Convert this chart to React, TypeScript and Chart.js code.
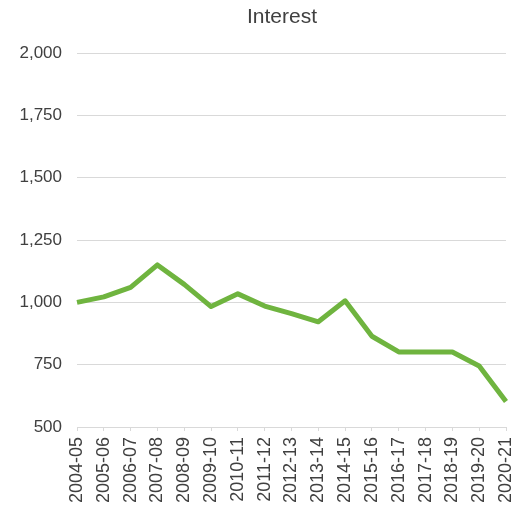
import React, { useEffect, useRef } from "react";
import { Chart, registerables } from "chart.js";

Chart.register(...registerables);

const TITLE = "Interest";
const categories = [
  "2004-05", "2005-06", "2006-07", "2007-08", "2008-09", "2009-10",
  "2010-11", "2011-12", "2012-13", "2013-14", "2014-15", "2015-16",
  "2016-17", "2017-18", "2018-19", "2019-20", "2020-21",
];
const interestValues = [
  1000, 1022, 1060, 1150, 1072, 983, 1034, 985, 955, 922, 1006, 864,
  801, 801, 801, 745, 602,
];
const yMin = 500;
const yMax = 2000;
const yStep = 250;

const FONT = "'Liberation Sans', Arial, sans-serif";
const TEXT = "#404040";
const GRID = "#d9d9d9";

export default function App() {
  const ref = useRef<HTMLCanvasElement | null>(null);

  useEffect(() => {
    if (!ref.current) return;
    const chart = new Chart(ref.current, {
      type: "line",
      data: {
        labels: categories,
        datasets: [
          {
            label: TITLE,
            data: interestValues,
            borderColor: "#6fb43f",
            backgroundColor: "#6fb43f",
            borderWidth: 5,
            pointRadius: 0,
            tension: 0,
            borderJoinStyle: "round",
          },
        ],
      },
      options: {
        animation: false,
        responsive: false,
        maintainAspectRatio: false,
        layout: { padding: { top: 53, right: 5, left: 0, bottom: 0 } },
        plugins: {
          legend: { display: false },
          title: { display: false },
          tooltip: { enabled: false },
        },
        scales: {
          x: {
            offset: false,
            grid: {
              display: true,
              drawOnChartArea: false,
              drawTicks: true,
              tickLength: 4,
              color: GRID,
            },
            border: { display: true, color: GRID, width: 1 },
            ticks: {
              autoSkip: false,
              minRotation: 90,
              maxRotation: 90,
              padding: 6,
              color: TEXT,
              font: { family: FONT, size: 18 },
            },
            afterFit: (scale: any) => {
              scale.height = 78;
              scale.paddingRight = 0;
              scale.paddingLeft = 0;
            },
          },
          y: {
            min: yMin,
            max: yMax,
            grid: { color: GRID, drawTicks: false, lineWidth: 1 },
            border: { display: false },
            ticks: {
              stepSize: yStep,
              padding: 15,
              color: TEXT,
              font: { family: FONT, size: 17 },
              callback: (v: any) => Number(v).toLocaleString("en-US"),
            },
            afterFit: (scale: any) => {
              scale.width = 77;
            },
          },
        },
      },
    });
    return () => chart.destroy();
  }, []);

  return (
    <div style={{ position: "absolute", left: 0, top: 0, width: 511, height: 505, background: "#fff" }}>
      <div
        style={{
          position: "absolute",
          left: 0,
          top: 3,
          width: 564,
          textAlign: "center",
          fontFamily: FONT,
          fontSize: 21,
          lineHeight: "26px",
          color: TEXT,
        }}
      >
        {TITLE}
      </div>
      <canvas ref={ref} width={511} height={505} style={{ display: "block" }} />
    </div>
  );
}
